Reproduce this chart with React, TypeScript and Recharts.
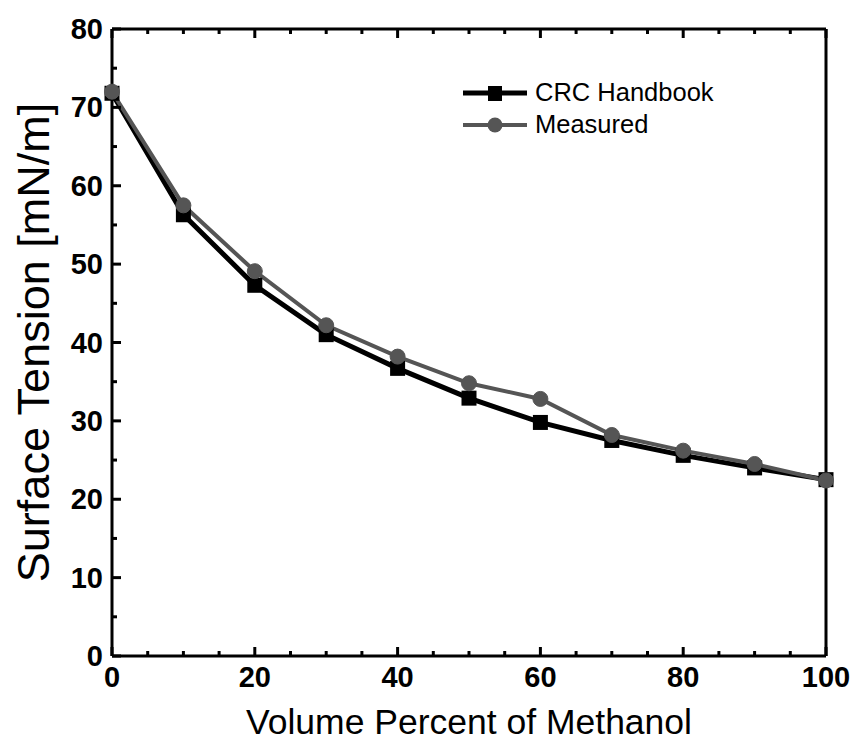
import { LineChart, Line, XAxis, YAxis } from 'recharts'

const volumePct = [0, 10, 20, 30, 40, 50, 60, 70, 80, 90, 100]
const crcHandbook = [71.8, 56.3, 47.3, 41.0, 36.7, 32.9, 29.8, 27.5, 25.6, 24.0, 22.5]
const measured = [72.0, 57.5, 49.1, 42.2, 38.2, 34.8, 32.8, 28.2, 26.2, 24.5, 22.4]
const xTicks = [0, 5, 10, 15, 20, 25, 30, 35, 40, 45, 50, 55, 60, 65, 70, 75, 80, 85, 90, 95, 100]
const yTicks = [0, 5, 10, 15, 20, 25, 30, 35, 40, 45, 50, 55, 60, 65, 70, 75, 80]

const data = volumePct.map((v, i) => ({ x: v, crc: crcHandbook[i], meas: measured[i] }))

const FONT = '"Liberation Sans", Arial, sans-serif'
const GRAY = '#555'

// tick marks point inward; labels only on multiples of 20 (x) / 10 (y)
const XTick = ({ x, y, payload, side }: any) => {
  const v = payload.value
  const major = v % 20 === 0
  const len = major ? 9 : 5
  const dir = side === 'top' ? 1 : -1
  const axisY = side === 'top' ? y + 9 : y - 9
  return (
    <g>
      <line x1={x} x2={x} y1={axisY} y2={axisY + dir * len} stroke="#000" strokeWidth={3} />
      {side !== 'top' && major && (
        <text x={x} y={y + 22} textAnchor="middle" fontFamily={FONT} fontWeight="bold" fontSize={29}>{v}</text>
      )}
    </g>
  )
}

const YTick = ({ x, y, payload, side }: any) => {
  const v = payload.value
  const major = v % 10 === 0
  const len = major ? 9 : 5
  const dir = side === 'right' ? -1 : 1
  const axisX = side === 'right' ? x - 9 : x + 9
  return (
    <g>
      <line x1={axisX} x2={axisX + dir * len} y1={y} y2={y} stroke="#000" strokeWidth={3} />
      {side !== 'right' && major && (
        <text x={x} y={y + 10} textAnchor="end" fontFamily={FONT} fontWeight="bold" fontSize={29}>{v}</text>
      )}
    </g>
  )
}

const XTitle = ({ viewBox }: any) => (
  <text x={viewBox.x + viewBox.width / 2} y={viewBox.y + 78} textAnchor="middle" fontFamily={FONT} fontSize={35.5}>
    Volume Percent of Methanol
  </text>
)

const YTitle = ({ viewBox }: any) => {
  const cx = viewBox.x + 49
  const cy = viewBox.y + viewBox.height / 2
  return (
    <text x={cx} y={cy} transform={`rotate(-90, ${cx}, ${cy})`} textAnchor="middle" fontFamily={FONT} fontSize={45}>
      Surface Tension [mN/m]
    </text>
  )
}

const SquareDot = ({ cx, cy }: any) => (
  <rect x={cx - 7.5} y={cy - 7.5} width={15} height={15} fill="#000" />
)

const LegendBox = () => (
  <svg width={320} height={84} style={{ position: 'absolute', left: 459, top: 70 }}>
    <line x1={4} x2={68} y1={23} y2={23} stroke="#000" strokeWidth={5} />
    <rect x={29} y={16} width={14} height={15} fill="#000" />
    <text x={76} y={31} fontFamily={FONT} fontSize={25.5}>CRC Handbook</text>
    <line x1={4} x2={68} y1={55} y2={55} stroke={GRAY} strokeWidth={4} />
    <circle cx={36} cy={55} r={7.5} fill={GRAY} />
    <text x={76} y={63} fontFamily={FONT} fontSize={25.5}>Measured</text>
  </svg>
)

export default function App() {
  return (
    <div style={{ position: 'absolute', left: 0, top: 0, width: 857, height: 751, background: '#fff' }}>
      <LineChart width={857} height={751} data={data} margin={{ top: 28, right: 30, left: 0, bottom: 0 }}>
        <XAxis
          dataKey="x"
          type="number"
          domain={[0, 100]}
          ticks={xTicks}
          interval={0}
          height={95}
          tickSize={0}
          tickMargin={9}
          axisLine={{ stroke: '#000', strokeWidth: 3 }}
          tick={<XTick side="bottom" />}
          label={<XTitle />}
        />
        <XAxis
          xAxisId="top"
          orientation="top"
          dataKey="x"
          type="number"
          domain={[0, 100]}
          ticks={xTicks}
          interval={0}
          height={1}
          tickSize={0}
          tickMargin={9}
          axisLine={{ stroke: '#000', strokeWidth: 3 }}
          tick={<XTick side="top" />}
        />
        <YAxis
          type="number"
          domain={[0, 80]}
          ticks={yTicks}
          interval={0}
          width={112}
          tickSize={0}
          tickMargin={9}
          axisLine={{ stroke: '#000', strokeWidth: 3 }}
          tick={<YTick side="left" />}
          label={<YTitle />}
        />
        <YAxis
          yAxisId="right"
          orientation="right"
          type="number"
          domain={[0, 80]}
          ticks={yTicks}
          interval={0}
          width={1}
          tickSize={0}
          tickMargin={9}
          axisLine={{ stroke: '#000', strokeWidth: 3 }}
          tick={<YTick side="right" />}
        />
        <Line
          dataKey="crc"
          name="CRC Handbook"
          stroke="#000"
          strokeWidth={5}
          dot={<SquareDot />}
          isAnimationActive={false}
        />
        <Line
          dataKey="meas"
          name="Measured"
          stroke={GRAY}
          strokeWidth={4}
          dot={{ r: 7.5, fill: GRAY, stroke: GRAY, strokeWidth: 1 }}
          isAnimationActive={false}
        />
      </LineChart>
      <LegendBox />
    </div>
  )
}
